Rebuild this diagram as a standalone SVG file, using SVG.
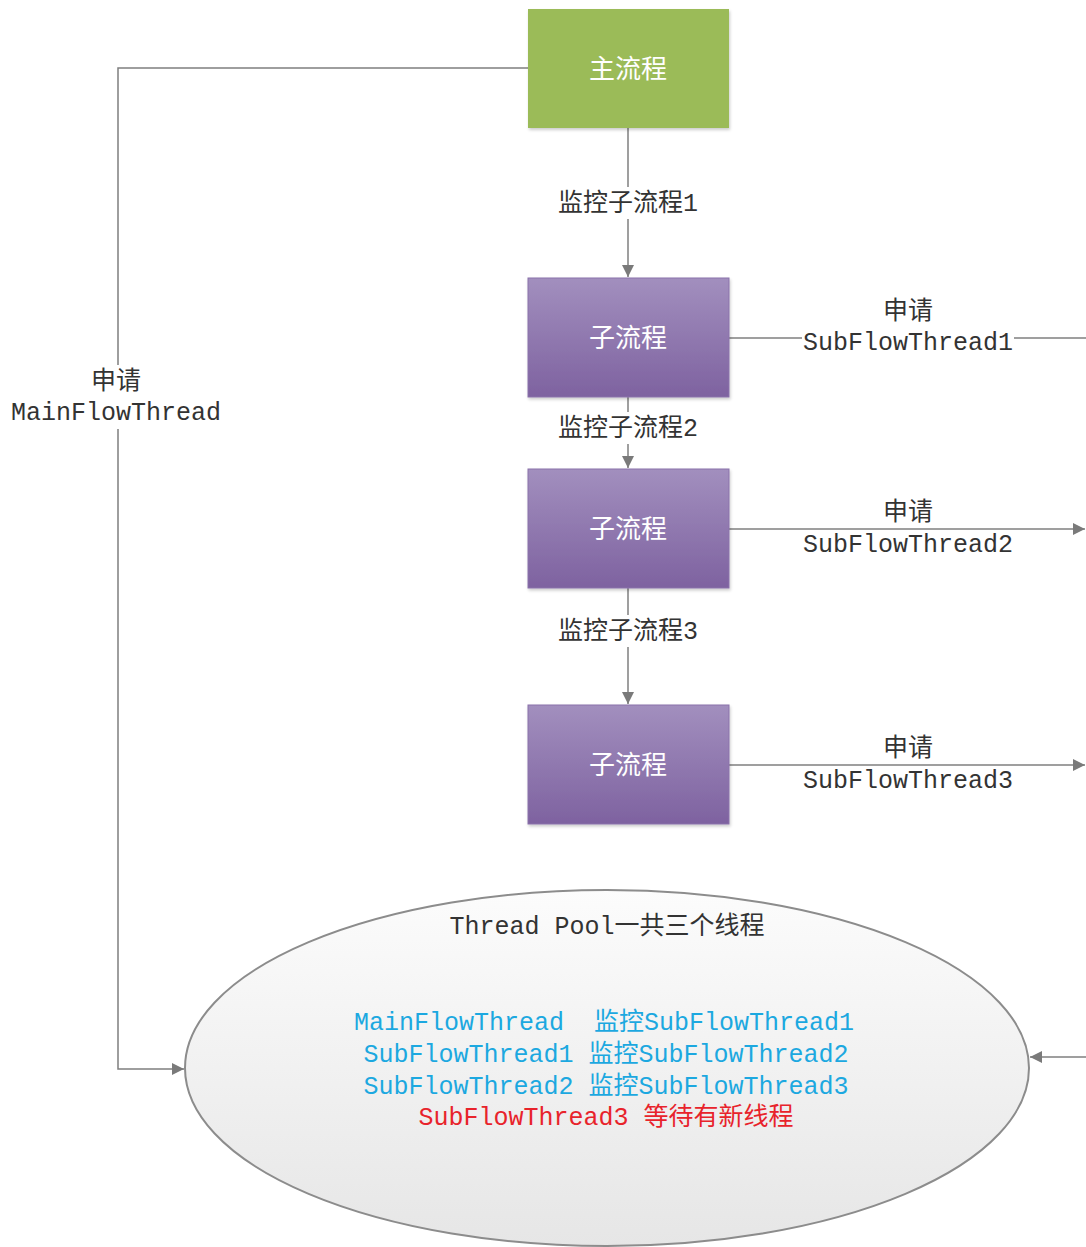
<svg xmlns="http://www.w3.org/2000/svg" width="1086" height="1247" viewBox="0 0 1086 1247">
<defs>
<linearGradient id="purple" x1="0" y1="0" x2="0" y2="1">
<stop offset="0" stop-color="#A28FBE"/>
<stop offset="1" stop-color="#7E62A0"/>
</linearGradient>
<linearGradient id="pool" x1="0" y1="0" x2="0" y2="1">
<stop offset="0" stop-color="#FCFCFC"/>
<stop offset="1" stop-color="#E6E6E6"/>
</linearGradient>
<marker id="arr" viewBox="0 0 10 10" refX="10" refY="5" markerWidth="12" markerHeight="12" markerUnits="userSpaceOnUse" orient="auto">
<path d="M0,0 L10,5 L0,10 z" fill="#7A7A7A"/>
</marker>
<filter id="sh" x="-5%" y="-5%" width="110%" height="115%">
<feDropShadow dx="1" dy="2" stdDeviation="1.5" flood-color="#000" flood-opacity="0.2"/>
</filter>
</defs>
<style>
.ln{fill:none;stroke:#7F7F7F;stroke-width:1.5}
.lbl{font-family:"Liberation Mono","Noto Sans CJK SC",monospace;font-size:25px;fill:#333;text-anchor:middle}
.box{font-family:"Noto Sans CJK SC",sans-serif;font-size:26px;fill:#fff;text-anchor:middle}
.blue{fill:#1CA8E0}
.red{fill:#E8232B}
</style>
<rect width="1086" height="1247" fill="#fff"/>
<g id="connectors">
<path class="ln" d="M528,68 H118 V1069 H184" marker-end="url(#arr)"/>
<path class="ln" d="M628,128 V277" marker-end="url(#arr)"/>
<path class="ln" d="M628,397 V468" marker-end="url(#arr)"/>
<path class="ln" d="M628,588 V704" marker-end="url(#arr)"/>
<path class="ln" d="M729,338 H1086"/>
<path class="ln" d="M729,529 H1085" marker-end="url(#arr)"/>
<path class="ln" d="M729,765 H1085" marker-end="url(#arr)"/>
<path class="ln" d="M1086,1057 H1030" marker-end="url(#arr)"/>
<rect x="8" y="365" width="216" height="64" fill="#fff"/>
<text class="lbl" x="116" y="389">申请</text>
<text class="lbl" x="116" y="420">MainFlowThread</text>
<rect x="550" y="187" width="156" height="32" fill="#fff"/>
<text class="lbl" x="628" y="211">监控子流程1</text>
<rect x="550" y="412" width="156" height="32" fill="#fff"/>
<text class="lbl" x="628" y="436">监控子流程2</text>
<rect x="550" y="615" width="156" height="32" fill="#fff"/>
<text class="lbl" x="628" y="639">监控子流程3</text>
<text class="lbl" x="908" y="319">申请</text>
<rect x="802" y="327" width="212" height="28" fill="#fff"/>
<text class="lbl" x="908" y="350">SubFlowThread1</text>
<text class="lbl" x="908" y="520">申请</text>
<text class="lbl" x="908" y="552">SubFlowThread2</text>
<text class="lbl" x="908" y="756">申请</text>
<text class="lbl" x="908" y="788">SubFlowThread3</text>
</g>
<g id="main">
<rect x="528" y="9" width="201" height="119" fill="#9BBB59" filter="url(#sh)"/>
<text class="box" x="628" y="78">主流程</text>
</g>
<g id="sub1">
<rect x="528" y="278" width="201" height="119" fill="url(#purple)" stroke="#8A72AA" stroke-width="1" filter="url(#sh)"/>
<text class="box" x="628" y="347">子流程</text>
</g>
<g id="sub2">
<rect x="528" y="469" width="201" height="119" fill="url(#purple)" stroke="#8A72AA" stroke-width="1" filter="url(#sh)"/>
<text class="box" x="628" y="538">子流程</text>
</g>
<g id="sub3">
<rect x="528" y="705" width="201" height="119" fill="url(#purple)" stroke="#8A72AA" stroke-width="1" filter="url(#sh)"/>
<text class="box" x="628" y="774">子流程</text>
</g>
<g id="pool">
<ellipse cx="607" cy="1068" rx="422" ry="178" fill="url(#pool)" stroke="#8C8C8C" stroke-width="2"/>
<text class="lbl" x="607" y="934" xml:space="preserve">Thread Pool一共三个线程</text>
<text class="lbl blue" x="604" y="1030" xml:space="preserve">MainFlowThread  监控SubFlowThread1</text>
<text class="lbl blue" x="606" y="1062" xml:space="preserve">SubFlowThread1 监控SubFlowThread2</text>
<text class="lbl blue" x="606" y="1094" xml:space="preserve">SubFlowThread2 监控SubFlowThread3</text>
<text class="lbl red" x="606" y="1125" xml:space="preserve">SubFlowThread3 等待有新线程</text>
</g>
</svg>
